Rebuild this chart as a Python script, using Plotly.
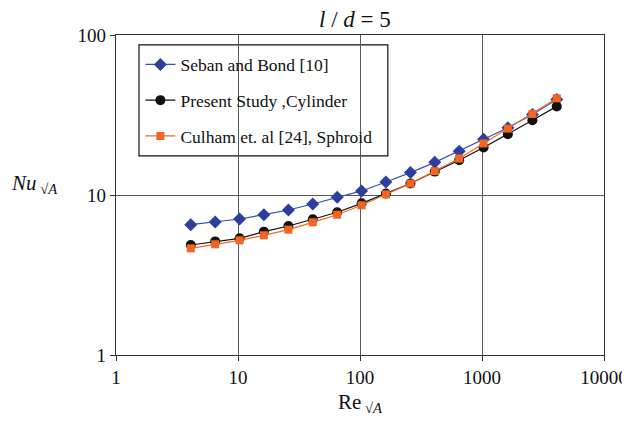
import plotly.graph_objects as go

re_vals = [4.1, 6.5, 10.3, 16.3, 25.9, 41, 65, 103, 163, 259, 410, 650, 1030, 1630, 2590, 4100]
nu_seban = [6.52, 6.78, 7.08, 7.53, 8.06, 8.79, 9.67, 10.6, 12.05, 13.8, 16.0, 18.8, 22.3, 26.3, 31.9, 39.5]
nu_present = [4.87, 5.13, 5.36, 5.9, 6.4, 7.05, 7.8, 8.87, 10.2, 11.8, 14.0, 16.5, 19.8, 24.0, 29.3, 35.8]
nu_culham = [4.64, 4.92, 5.21, 5.6, 6.07, 6.75, 7.53, 8.62, 10.1, 11.8, 14.1, 16.9, 21.0, 26.0, 32.1, 40.2]

x_tickvals = [1, 10, 100, 1000, 10000]
x_ticktext = ["1", "10", "100", "1000", "10000"]
y_tickvals = [1, 10, 100]
y_ticktext = ["1", "10", "100"]

names = ["Seban and Bond [10]", "Present Study ,Cylinder", "Culham et. al [24], Sphroid"]

FONT = "Liberation Serif, Times New Roman, serif"

fig = go.Figure()
fig.add_trace(go.Scatter(x=re_vals, y=nu_seban, name=names[0], mode="lines+markers",
                         legendgroup="a",
                         line=dict(color="#3a4fb0", width=1.2),
                         marker=dict(symbol="diamond", size=10, color="#2c3f9e")))
fig.add_trace(go.Scatter(x=re_vals, y=nu_present, name=names[1], mode="lines+markers",
                         legendgroup="b",
                         line=dict(color="#111111", width=1.2),
                         marker=dict(symbol="circle", size=10, color="#111111")))
fig.add_trace(go.Scatter(x=re_vals, y=nu_culham, name=names[2], mode="lines+markers",
                         legendgroup="c",
                         line=dict(color="#f26a22", width=1.2),
                         marker=dict(symbol="square", size=8, color="#f26522")))

axis_common = dict(
    type="log", automargin=False,
    showgrid=True, gridcolor="#5a5a5a", gridwidth=1.3,
    showline=True, linecolor="#333333", linewidth=1.3, mirror=True,
    ticks="outside", ticklen=5, tickcolor="#333333", tickwidth=1.3,
    tickfont=dict(family=FONT, size=19, color="#111111"),
    zeroline=False,
)

fig.update_xaxes(range=[0, 4], tickvals=x_tickvals, ticktext=x_ticktext, **axis_common)
fig.update_yaxes(range=[0, 2], tickvals=y_tickvals, ticktext=y_ticktext, **axis_common)

# legend box
fig.add_shape(type="rect", xref="paper", yref="paper",
              x0=0.0471, x1=0.557, y0=0.622, y1=0.969,
              line=dict(color="#111111", width=1.2), fillcolor="white", layer="between")

fig.update_layout(
    width=630, height=423,
    margin=dict(l=108, r=34, t=27, b=76, autoexpand=False),
    plot_bgcolor="white", paper_bgcolor="white",
    font=dict(family=FONT, color="#111111"),
    showlegend=True,
    legend=dict(x=0.05, y=0.964, xanchor="left", yanchor="top",
                bgcolor="rgba(0,0,0,0)", borderwidth=0,
                font=dict(family=FONT, size=17.5, color="#111111"),
                traceorder="grouped", tracegroupgap=10),
    annotations=[
        dict(text="<i>l</i> / <i>d</i> = 5", xref="paper", yref="paper",
             x=0.49, y=1.0, xanchor="center", yanchor="bottom", yshift=1,
             showarrow=False, font=dict(family=FONT, size=23, color="#111111")),
        dict(text="Re<sub> √<i>A</i></sub>", xref="paper", yref="paper",
             x=0.5, y=0, xanchor="center", yanchor="top", yshift=-33,
             showarrow=False, font=dict(family=FONT, size=21, color="#111111")),
        dict(text="<i>Nu</i><sub> √<i>A</i></sub>", xref="paper", yref="paper",
             x=0, y=0.5, xanchor="right", yanchor="middle", xshift=-56, yshift=11,
             showarrow=False, font=dict(family=FONT, size=21, color="#111111")),
    ],
)

fig.write_html("out.html")
